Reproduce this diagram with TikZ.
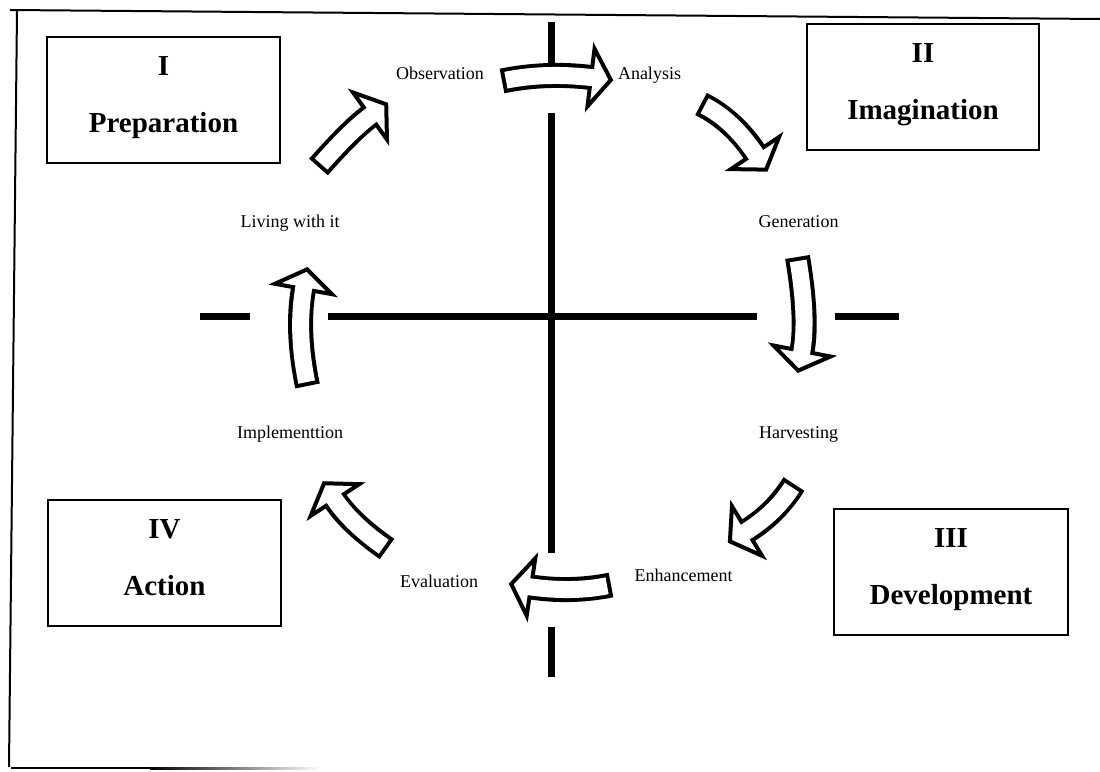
\documentclass[tikz,border=0pt]{standalone}
\usepackage{fontspec}
\setmainfont{Liberation Serif}
\usetikzlibrary{calc}
\newcommand\blockarrow[3]{%
  \draw[line width=25pt,black] (#1) .. controls ($(#1)!2/3!(#2)$) and ($(#3)!2/3!(#2)$) .. (#3);
  \filldraw[fill=white,draw=black,line width=4pt,line join=miter] ($(#3)!29pt!90:(#2)$) -- ($(#3)!-20pt!(#2)$) -- ($(#3)!29pt!-90:(#2)$) -- cycle;
  \draw[line width=17pt,white] ($(#1)!4pt!(#2)$) .. controls ($(#1)!2/3!(#2)$) and ($(#3)!2/3!(#2)$) .. ($(#3)!-4pt!(#2)$);
}
\tikzset{
  box/.style={draw=black,line width=1.6pt,minimum width=233pt,minimum height=126pt,inner sep=0pt},
  ttl/.style={font=\bfseries\fontsize{29}{34}\selectfont,anchor=base,inner sep=0pt},
  lbl/.style={font=\fontsize{18}{21}\selectfont,anchor=base,inner sep=0pt},
  axis/.style={line width=7pt,black},
  frame/.style={line width=2pt,black}
}
\begin{document}
\begin{tikzpicture}[x=1pt,y=-1pt]
\useasboundingbox (0,0) rectangle (1100,771);
% frame
\draw[frame] (10,10) -- (1100,19);
\draw[frame] (17,11) -- (9,767);
\draw[frame] (11,768) -- (150,768);
\shade[left color=black,right color=white] (150,767) rectangle (320,769);
% axes
\draw[axis] (551,22) -- (551,73);
\draw[axis] (551,113) -- (551,553);
\draw[axis] (551,627) -- (551,677);
\draw[axis] (200,316) -- (250,316);
\draw[axis] (328,316) -- (757,316);
\draw[axis] (835,316) -- (899,316);
% boxes
\node[box] (b1) at (163.5,100) {};
\node[ttl] (b1a) at (163.5,75) {I};
\node[ttl] (b1b) at (163.5,132) {Preparation};
\node[box,minimum width=232pt] (b2) at (923,87) {};
\node[ttl] (b2a) at (923,62) {II};
\node[ttl] (b2b) at (923,119) {Imagination};
\node[box,minimum width=234pt] (b3) at (951,572) {};
\node[ttl] (b3a) at (951,547) {III};
\node[ttl] (b3b) at (951,604) {Development};
\node[box] (b4) at (164.5,563) {};
\node[ttl] (b4a) at (164.5,538) {IV};
\node[ttl] (b4b) at (164.5,595) {Action};
% labels
\node[lbl] (obs) at (440,79) {Observation};
\node[lbl] (ana) at (649.5,79) {Analysis};
\node[lbl] (gen) at (798.5,227) {Generation};
\node[lbl] (har) at (798.5,438) {Harvesting};
\node[lbl] (enh) at (683.5,581) {Enhancement};
\node[lbl] (eva) at (439,587) {Evaluation};
\node[lbl] (imp) at (290,438) {Implementtion};
\node[lbl] (liv) at (290,227) {Living with it};
% block arrows
\coordinate (t1) at (502,81);   \coordinate (c1) at (546,72);  \coordinate (e1) at (591,77.5);
\coordinate (t2) at (701,104);  \coordinate (c2) at (733,120); \coordinate (e2) at (755,153);
\coordinate (t3) at (797.5,257);\coordinate (c3) at (808,320); \coordinate (e3) at (802,351);
\coordinate (t4) at (794,484);  \coordinate (c4) at (775,514); \coordinate (e4) at (747,531);
\coordinate (t5) at (611,585);  \coordinate (c5) at (571,593); \coordinate (e5) at (531,587);
\coordinate (t6) at (387,549);  \coordinate (c6) at (350,523); \coordinate (e6) at (335,500);
\coordinate (t7) at (307.5,386);\coordinate (c7) at (296,330); \coordinate (e7) at (303.5,289);
\coordinate (t8) at (318.5,167);\coordinate (c8) at (352,129); \coordinate (e8) at (370,116);
\blockarrow{t1}{c1}{e1}
\blockarrow{t2}{c2}{e2}
\blockarrow{t3}{c3}{e3}
\blockarrow{t4}{c4}{e4}
\blockarrow{t5}{c5}{e5}
\blockarrow{t6}{c6}{e6}
\blockarrow{t7}{c7}{e7}
\blockarrow{t8}{c8}{e8}
\end{tikzpicture}
\end{document}
